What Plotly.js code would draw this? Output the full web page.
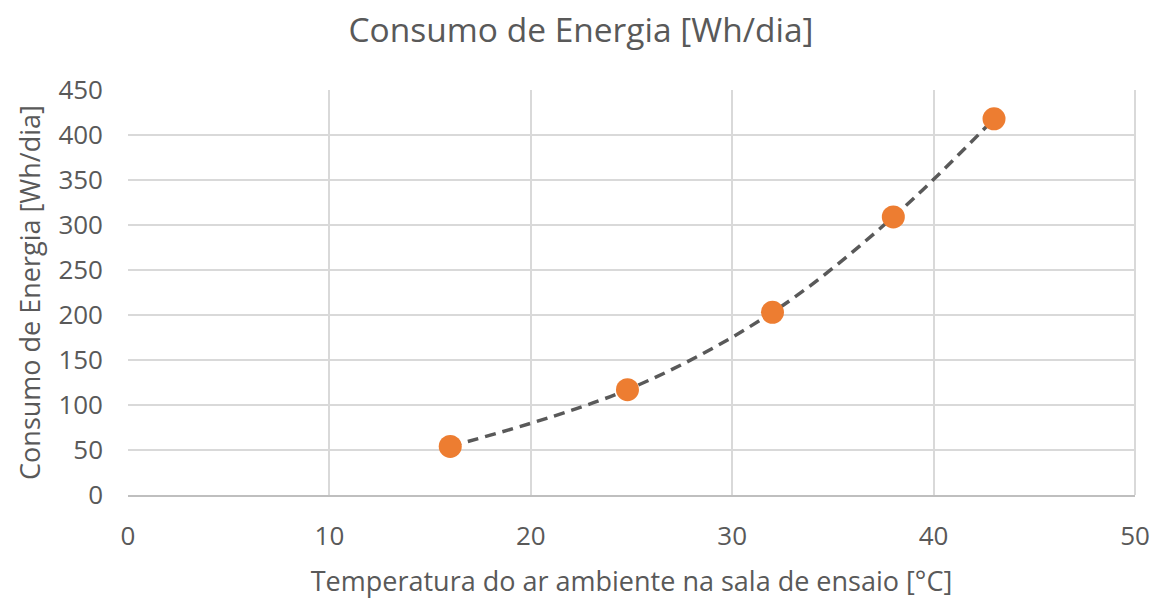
<!DOCTYPE html>
<html><head><meta charset="utf-8">
<script src="https://cdn.plot.ly/plotly-3.0.1.min.js"></script>
<style>body{margin:0}#c{width:1162px;height:599px}</style>
</head><body><div id="c"></div>
<script>
const temperatura = [16, 24.8, 32, 38, 43];
const consumo = [54, 117, 203, 309, 418];
const xTicks = [0, 10, 20, 30, 40, 50];
const yTicks = [0, 50, 100, 150, 200, 250, 300, 350, 400, 450];
const font = "Open Sans, Liberation Sans, sans-serif";
const grey = "#595959";
Plotly.newPlot("c", [
  {x: temperatura, y: consumo, mode: "lines", line: {shape: "spline", color: "#595959", width: 3.5, dash: "11px,7px"}, hoverinfo: "skip"},
  {x: temperatura, y: consumo, mode: "markers", marker: {color: "#ED7D31", size: 23}}
], {
  width: 1162, height: 599,
  margin: {l: 128, r: 27, t: 90, b: 104},
  showlegend: false,
  paper_bgcolor: "#fff", plot_bgcolor: "#fff",
  font: {family: font, color: grey},
  title: {text: "Consumo de Energia [Wh/dia]", font: {size: 33.5, color: grey}, x: 0.5, xanchor: "center", y: 0.95, yanchor: "middle"},
  xaxis: {range: [0, 50], tickvals: xTicks, showgrid: true, gridcolor: "#d9d9d9", gridwidth: 2,
    zeroline: false, showline: true, linecolor: "#bfbfbf", linewidth: 2, mirror: false,
    tickfont: {size: 26, color: grey}, ticks: "", ticklen: 0, ticklabelstandoff: 17,
    title: {text: "Temperatura do ar ambiente na sala de ensaio [°C]", font: {size: 27, color: grey}, standoff: 20}},
  yaxis: {range: [0, 450], tickvals: yTicks, showgrid: true, gridcolor: "#d9d9d9", gridwidth: 2,
    zeroline: false, showline: false, tickfont: {size: 26, color: grey}, ticks: "", ticklabelstandoff: 24,
    title: {text: "Consumo de Energia [Wh/dia]", font: {size: 27, color: grey}, standoff: 9}},
  shapes: [{type: "line", xref: "paper", yref: "paper", x0: 1, x1: 1, y0: 0, y1: 1, line: {color: "#d9d9d9", width: 2}}]
}, {displayModeBar: false});
</script></body></html>
